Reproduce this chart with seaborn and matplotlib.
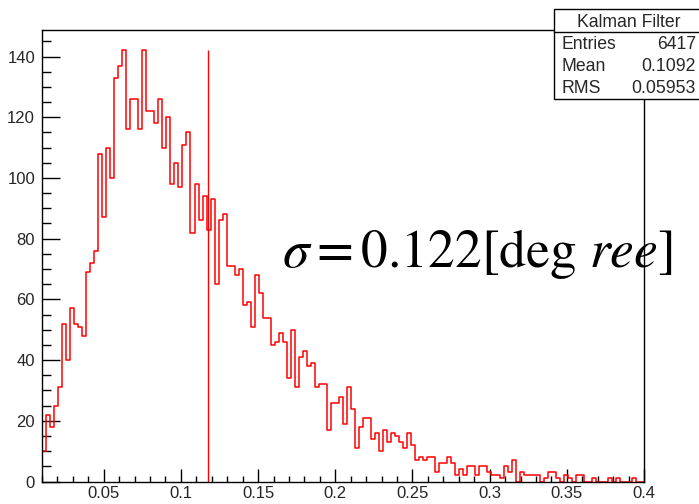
import numpy as np
import pandas as pd
import matplotlib
matplotlib.use("Agg")
import matplotlib.pyplot as plt
import seaborn as sns
from matplotlib.ticker import MultipleLocator, FixedLocator, FuncFormatter
from matplotlib.patches import Rectangle
from matplotlib.lines import Line2D

# ---------------- data ----------------
BIN_LO, BIN_HI, N_BINS = 0.01, 0.40, 150
counts = [
    10, 22, 18, 25, 31, 52, 40, 57, 52, 51,
    48, 69, 72, 76, 108, 87, 110, 100, 133, 137,
    142, 116, 126, 126, 116, 142, 122, 122, 118, 126,
    110, 120, 98, 105, 97, 111, 115, 82, 98, 86,
    94, 83, 93, 65, 86, 88, 71, 71, 68, 70,
    58, 59, 51, 68, 62, 54, 54, 45, 46, 49,
    46, 34, 50, 31, 41, 43, 38, 39, 31, 32,
    32, 17, 26, 26, 28, 19, 31, 24, 11, 18,
    21, 21, 14, 16, 10, 17, 13, 16, 15, 13,
    11, 16, 12, 7, 8, 7, 8, 8, 3, 6,
    6, 8, 6, 2, 4, 2, 5, 5, 2, 5,
    5, 3, 2, 2, 1, 5, 3, 7, 0, 3,
    2, 2, 2, 2, 0, 1, 3, 3, 1, 0,
    2, 1, 0, 2, 2, 0, 0, 1, 0, 0,
    0, 1, 0, 1, 0, 0, 0, 1, 0, 0,
]
MARK_X = 0.1173
STATS_TITLE = "Kalman Filter"
STATS_LABELS = ["Entries", "Mean", "RMS"]
STATS_VALUES = ["6417", "0.1092", "0.05953"]
x_ticks = [0.05, 0.1, 0.15, 0.2, 0.25, 0.3, 0.35, 0.4]
y_ticks = [0, 20, 40, 60, 80, 100, 120, 140]
ANNOT = r"$\sigma = 0.122[\mathrm{deg}\ ree]$"
Y_MAX = 148.9

# ---------------- style ----------------
sns.set_theme(style="white")
plt.rcParams['font.family'] = ['Liberation Sans', 'DejaVu Sans']
plt.rcParams['mathtext.fontset'] = 'stix'

W, H = 699, 504
fig = plt.figure(figsize=(W / 100, H / 100), dpi=100)
fig.patch.set_facecolor("white")
L, R, T, B = 42, 644, 29.5, 481.5
ax = fig.add_axes([L / W, (H - B) / H, (R - L) / W, (B - T) / H])

edges = np.linspace(BIN_LO, BIN_HI, N_BINS + 1).tolist()
centers = [(a + b) / 2 for a, b in zip(edges[:-1], edges[1:])]
df = pd.DataFrame({"x": centers, "n": counts})
sns.histplot(data=df, x="x", weights="n", bins=edges, element="step",
             fill=False, color="#ff0000", linewidth=1.1, ax=ax)
ax.vlines(MARK_X, 0, max(counts), color="#ff0000", linewidth=1.0)

ax.set_xlim(BIN_LO, BIN_HI)
ax.set_ylim(0, Y_MAX)
ax.set_xlabel("")
ax.set_ylabel("")
ax.xaxis.set_major_locator(FixedLocator(x_ticks))
ax.xaxis.set_minor_locator(MultipleLocator(0.01))
ax.yaxis.set_major_locator(FixedLocator(y_ticks))
ax.yaxis.set_minor_locator(MultipleLocator(5))
ax.xaxis.set_major_formatter(FuncFormatter(lambda v, p: "%g" % round(v, 3)))
ax.yaxis.set_major_formatter(FuncFormatter(lambda v, p: "%g" % v))
ax.tick_params(axis="x", which="major", direction="in", length=9.4, width=1,
               color="black", labelsize=12, pad=3.5, top=False, bottom=True)
ax.tick_params(axis="x", which="minor", direction="in", length=4.6, width=1,
               color="black", top=False, bottom=True)
ax.tick_params(axis="y", which="major", direction="in", length=13, width=1,
               color="black", labelsize=12, pad=5, right=False, left=True)
ax.tick_params(axis="y", which="minor", direction="in", length=6.5, width=1,
               color="black", right=False, left=True)
for s in ax.spines.values():
    s.set_color("black")
    s.set_linewidth(1)
    s.set_visible(True)
ax.grid(False)

# annotation
fig.text(282 / W, 1 - 266.7 / H, ANNOT, fontsize=38.5, ha="left", va="baseline",
         color="black")

# stats box
bx0, bx1, by0, by1, bsep = 554.3, 704, 9.3, 98.7, 31.7
fig.add_artist(Rectangle((bx0 / W, 1 - by1 / H), (bx1 - bx0) / W, (by1 - by0) / H,
                         transform=fig.transFigure, facecolor="white",
                         edgecolor="black", linewidth=1, zorder=5))
fig.add_artist(Line2D([bx0 / W, bx1 / W], [1 - bsep / H] * 2,
                      transform=fig.transFigure, color="black", linewidth=1, zorder=6))
fig.text(629 / W, 1 - 26.7 / H, STATS_TITLE, fontsize=12.7,
         ha="center", va="baseline", zorder=7)
for i, (lab, val) in enumerate(zip(STATS_LABELS, STATS_VALUES)):
    yb = 49.3 + 21.7 * i
    fig.text(561.5 / W, 1 - yb / H, lab, fontsize=12.7, ha="left", va="baseline", zorder=7)
    fig.text(696 / W, 1 - yb / H, val, fontsize=12.7, ha="right", va="baseline", zorder=7)

fig.savefig("out.png", dpi=100)
